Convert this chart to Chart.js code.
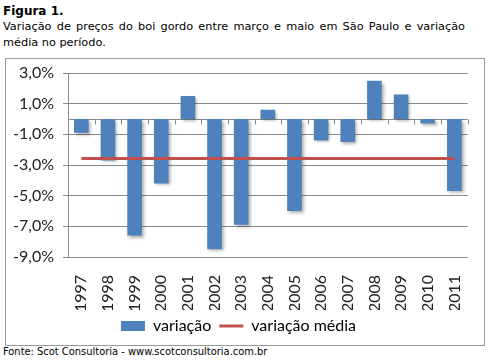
<!DOCTYPE html>
<html>
<head>
<meta charset="utf-8">
<script src="https://cdn.jsdelivr.net/npm/chart.js@4/dist/chart.umd.min.js"></script>
<style>
    body { margin: 0; background: #fff; width: 491px; height: 362px; position: relative; overflow: hidden; }
    .caption { position: absolute; left: 3px; top: 3px; width: 462px; font-family: "DejaVu Sans", Tahoma, sans-serif; font-size: 11.3px; line-height: 16px; color: #000; }
    .caption b { display: block; font-size: 12px; }
    .caption .l1 { text-align: justify; text-align-last: justify; white-space: nowrap; }
    .box { position: absolute; left: 5px; top: 58px; width: 478px; height: 286px; border: 1px solid #999; }
    .box canvas { position: absolute; left: 0; top: 0; }
    .source { position: absolute; left: 3px; top: 345px; font-family: "DejaVu Sans Condensed", "DejaVu Sans", sans-serif; font-size: 11px; color: #000; }
</style>
</head>
<body>
<div class="caption"><b>Figura 1.</b><div class="l1">Variação de preços do boi gordo entre março e maio em São Paulo e variação</div><div>média no período.</div></div>
<div class="box"><canvas id="chart" width="478" height="286"></canvas></div>
<div class="source">Fonte: Scot Consultoria - www.scotconsultoria.com.br</div>
<script>
// Dados
const anos = ['1997', '1998', '1999', '2000', '2001', '2002', '2003', '2004', '2005', '2006', '2007', '2008', '2009', '2010', '2011'];
const variacao = [-0.9, -2.7, -7.6, -4.2, 1.5, -8.5, -6.9, 0.6, -6.0, -1.4, -1.5, 2.5, 1.6, -0.3, -4.7];
const variacaoMedia = [-2.57, -2.57, -2.57, -2.57, -2.57, -2.57, -2.57, -2.57, -2.57, -2.57, -2.57, -2.57, -2.57, -2.57, -2.57];
const yTicks = [3, 1, -1, -3, -5, -7, -9];

const axisFont = { family: 'Lato, "Open Sans", sans-serif', size: 16 };

// linha do zero com marcas entre categorias
const zeroLine = {
    id: 'zeroLine',
    beforeDatasetsDraw(chart) {
        const { ctx, chartArea, scales } = chart;
        const y0 = Math.round(scales.y.getPixelForValue(0)) + 0.5;
        const step = chartArea.width / anos.length;
        ctx.save();
        ctx.strokeStyle = '#8a8a8a';
        ctx.lineWidth = 1;
        ctx.beginPath();
        ctx.moveTo(chartArea.left, y0);
        ctx.lineTo(chartArea.right, y0);
        for (let i = 0; i <= anos.length; i++) {
            const x = Math.round(chartArea.left + i * step) + 0.5;
            ctx.moveTo(x, y0);
            ctx.lineTo(x, y0 + 5);
        }
        ctx.stroke();
        ctx.restore();
    }
};

// sombra leve nas barras
const barShadow = {
    id: 'barShadow',
    beforeDatasetDraw(chart, args) {
        if (args.index !== 0) return;
        const ctx = chart.ctx;
        ctx.save();
        ctx.shadowColor = 'rgba(0,0,0,0.3)';
        ctx.shadowBlur = 3;
        ctx.shadowOffsetX = 2;
        ctx.shadowOffsetY = 2;
    },
    afterDatasetDraw(chart, args) {
        if (args.index !== 0) return;
        chart.ctx.restore();
    }
};

new Chart(document.getElementById('chart'), {
    data: {
        labels: anos,
        datasets: [
            {
                type: 'bar',
                label: 'variação',
                data: variacao,
                backgroundColor: '#4f81bd',
                barPercentage: 0.55,
                categoryPercentage: 1,
                order: 2
            },
            {
                type: 'line',
                label: 'variação média',
                data: variacaoMedia,
                borderColor: '#c0504d',
                borderWidth: 3,
                pointRadius: 0,
                order: 1
            }
        ]
    },
    options: {
        responsive: false,
        animation: false,
        layout: { padding: { top: 14, right: 13, left: 0, bottom: 1 } },
        scales: {
            x: {
                grid: { display: false },
                border: { display: false },
                afterFit(scale) { scale.height = 53; },
                ticks: {
                    minRotation: 90,
                    maxRotation: 90,
                    padding: 10,
                    color: '#222',
                    font: axisFont
                }
            },
            y: {
                min: -9,
                max: 3,
                afterBuildTicks(scale) {
                    scale.ticks = yTicks.map(v => ({ value: v }));
                },
                afterFit(scale) {
                    scale.width = 62;
                    scale.paddingTop = 0;
                    scale.paddingBottom = 0;
                },
                grid: { color: '#8a8a8a', tickLength: 5 },
                border: { color: '#8a8a8a' },
                ticks: {
                    color: '#222',
                    font: axisFont,
                    padding: 9,
                    callback: v => v.toFixed(1).replace('.', ',') + '%'
                }
            }
        },
        plugins: {
            tooltip: { enabled: false },
            legend: {
                position: 'bottom',
                labels: {
                    color: '#222',
                    font: axisFont,
                    usePointStyle: true,
                    pointStyleWidth: 24,
                    boxHeight: 10,
                    padding: 8,
                    generateLabels(chart) {
                        return [
                            { text: 'variação', fillStyle: '#4f81bd', strokeStyle: '#4f81bd', lineWidth: 0, pointStyle: 'rect', datasetIndex: 0 },
                            { text: 'variação média', fillStyle: '#c0504d', strokeStyle: '#c0504d', lineWidth: 3, pointStyle: 'line', datasetIndex: 1 }
                        ];
                    }
                }
            }
        }
    },
    plugins: [zeroLine, barShadow]
});
</script>
</body>
</html>
